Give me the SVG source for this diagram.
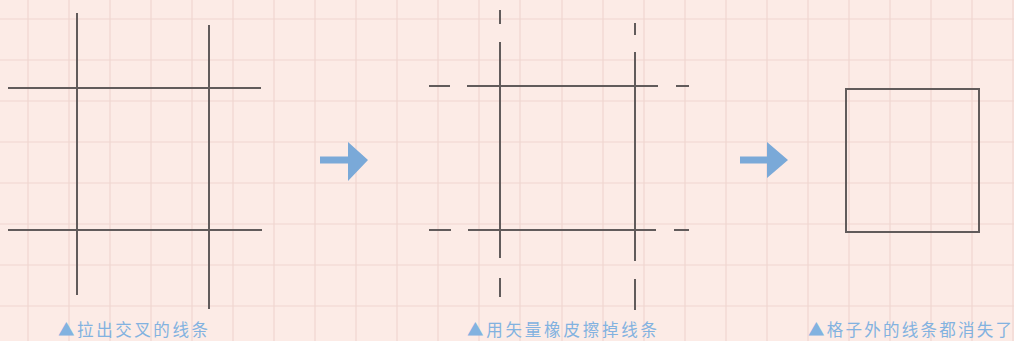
<svg xmlns="http://www.w3.org/2000/svg" width="1014" height="341" viewBox="0 0 1014 341">
<style>
.grid line{stroke:#f0d6d0;stroke-width:1.2}
.ln{stroke:#615b5b;stroke-width:2;fill:none;stroke-linecap:butt}
.arrow{fill:#7aa9d8}
.cap{font-family:"Noto Sans CJK SC","Noto Sans",sans-serif;font-size:16.5px;fill:#82b2e0}
</style>
<rect width="1014" height="341" fill="#fcebe6"/>
<g id="grid" class="grid">
<line x1="28" y1="0" x2="28" y2="341"/><line x1="69" y1="0" x2="69" y2="341"/><line x1="110" y1="0" x2="110" y2="341"/><line x1="151" y1="0" x2="151" y2="341"/><line x1="192" y1="0" x2="192" y2="341"/><line x1="233" y1="0" x2="233" y2="341"/><line x1="274" y1="0" x2="274" y2="341"/><line x1="315" y1="0" x2="315" y2="341"/><line x1="356" y1="0" x2="356" y2="341"/><line x1="397" y1="0" x2="397" y2="341"/><line x1="438" y1="0" x2="438" y2="341"/><line x1="479" y1="0" x2="479" y2="341"/><line x1="520" y1="0" x2="520" y2="341"/><line x1="562" y1="0" x2="562" y2="341"/><line x1="603" y1="0" x2="603" y2="341"/><line x1="644" y1="0" x2="644" y2="341"/><line x1="685" y1="0" x2="685" y2="341"/><line x1="726" y1="0" x2="726" y2="341"/><line x1="767" y1="0" x2="767" y2="341"/><line x1="808" y1="0" x2="808" y2="341"/><line x1="849" y1="0" x2="849" y2="341"/><line x1="890" y1="0" x2="890" y2="341"/><line x1="931" y1="0" x2="931" y2="341"/><line x1="972" y1="0" x2="972" y2="341"/><line x1="1013" y1="0" x2="1013" y2="341"/>
<line x1="0" y1="19" x2="1014" y2="19"/><line x1="0" y1="60" x2="1014" y2="60"/><line x1="0" y1="101" x2="1014" y2="101"/><line x1="0" y1="142" x2="1014" y2="142"/><line x1="0" y1="183" x2="1014" y2="183"/><line x1="0" y1="224" x2="1014" y2="224"/><line x1="0" y1="265" x2="1014" y2="265"/><line x1="0" y1="306" x2="1014" y2="306"/>
</g>
<g id="panel1">
<line class="ln" x1="77" y1="13" x2="77" y2="295"/>
<line class="ln" x1="209" y1="25" x2="209" y2="309"/>
<line class="ln" x1="8" y1="88" x2="261" y2="88"/>
<line class="ln" x1="8" y1="230" x2="262" y2="230"/>
</g>
<g id="panel2">
<line class="ln" x1="500" y1="10" x2="500" y2="24"/>
<line class="ln" x1="500" y1="42" x2="500" y2="258"/>
<line class="ln" x1="500" y1="278" x2="500" y2="297"/>
<line class="ln" x1="635" y1="23" x2="635" y2="35"/>
<line class="ln" x1="635" y1="52" x2="635" y2="261"/>
<line class="ln" x1="635" y1="279" x2="635" y2="310"/>
<line class="ln" x1="429" y1="86" x2="450" y2="86"/>
<line class="ln" x1="467" y1="86" x2="658" y2="86"/>
<line class="ln" x1="676" y1="86" x2="689" y2="86"/>
<line class="ln" x1="429" y1="230" x2="451" y2="230"/>
<line class="ln" x1="468" y1="230" x2="656" y2="230"/>
<line class="ln" x1="674" y1="230" x2="689" y2="230"/>
</g>
<g id="panel3">
<rect class="ln" x="846" y="89" width="133" height="143"/>
</g>
<g id="connectors">
<path class="arrow" d="M320 156.5 H348 V142 L368 160 L348 181 V163.5 H320 Z"/>
<path class="arrow" d="M740 156.5 H767 V142 L788 160 L767 178 V163.5 H740 Z"/>
</g>
<g id="captions">
<text class="cap" x="58" y="336" textLength="150" lengthAdjust="spacing">▲拉出交叉的线条</text>
<text class="cap" x="467" y="336" textLength="190" lengthAdjust="spacing">▲用矢量橡皮擦掉线条</text>
<text class="cap" x="808" y="336" textLength="204" lengthAdjust="spacing">▲格子外的线条都消失了</text>
</g>
</svg>
